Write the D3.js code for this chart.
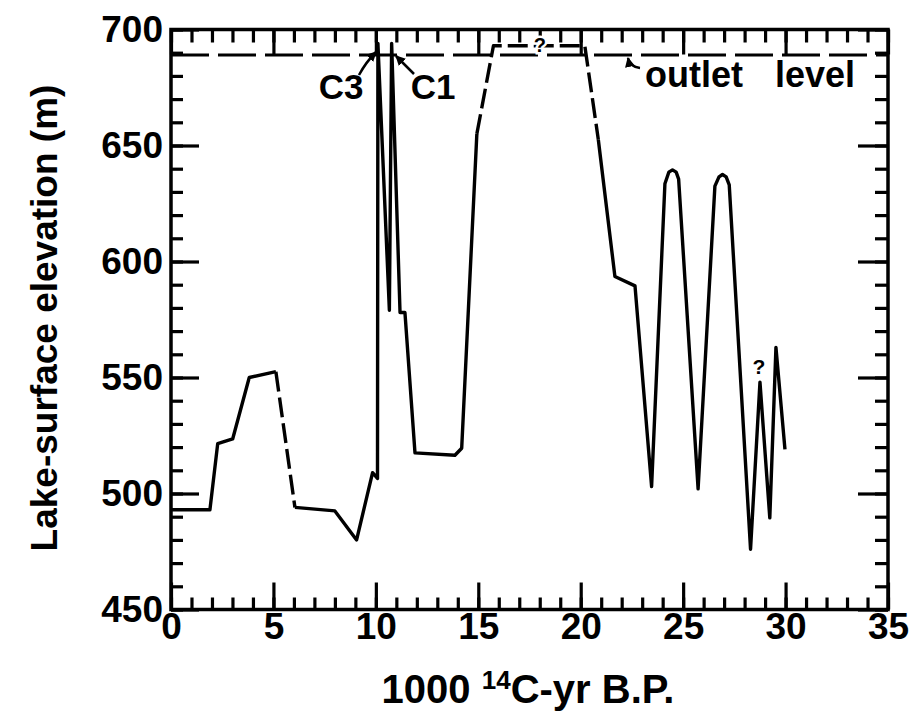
<!DOCTYPE html>
<html><head><meta charset="utf-8">
<script src="https://cdn.jsdelivr.net/npm/d3@7"></script>
<style>body{margin:0;background:#fff}</style></head>
<body><svg id="c" width="921" height="720"></svg>
<script>
// ---- data ----
const ageKyr    = [0, 1.9, 2.28, 3.01, 3.82, 5.12, 6.05, 8.0, 9.06, 9.84, 10.08, 10.1, 10.66, 10.77, 11.18, 11.42, 11.91, 13.86, 14.19, 14.93, 15.74, 20.2, 20.86, 21.67, 22.65, 23.46, 24.11, 24.3, 24.48, 24.66, 24.78, 25.73, 26.55, 26.75, 26.92, 27.1, 27.25, 28.29, 28.75, 29.23, 29.53, 29.97];
const elevation = [493, 493, 521.5, 523.5, 550, 552.5, 494, 492.5, 480, 509, 506.5, 694, 579, 694, 578, 578, 517.5, 516.5, 519.5, 655, 693, 693, 652.5, 593.5, 589.5, 503, 633.5, 638.5, 639.5, 638.5, 635.5, 502, 632.5, 636.5, 637.5, 636.5, 633, 476, 548, 489.5, 563, 519];
// style of the segment from point i to point i+1: s = solid, d = dashed
const segStyle  = ["s","s","s","s","s","d",
                   "s","s","s","s","s","s","s","s","s","s","s","s","s",
                   "d","d","d",
                   "s","s","s","s","s","s","s","s","s","s","s","s","s","s","s","s","s","s","s"];
const xMajor = [0, 5, 10, 15, 20, 25, 30, 35];
const yMajor = [450, 500, 550, 600, 650, 700];
const outletLevel = 689;
const xTitle = ["1000 ", "14", "C-yr B.P."];
const yTitle = "Lake-surface elevation (m)";

// ---- layout ----
const svg = d3.select("#c");
const font = "'Liberation Sans', Arial, Helvetica, sans-serif";
const L = 171, R = 888, T = 29.5, B = 609.5;
const x = d3.scaleLinear().domain([0, 35]).range([L, R]);
const y = d3.scaleLinear().domain([450, 700]).range([B, T]);
const xMinor = d3.range(0, 36, 1);
const yMinor = d3.range(450, 701, 10);

function styleAxis(g) {
  g.select(".domain").remove();
  g.selectAll(".tick line").attr("stroke", "#000").attr("stroke-width", 3.2);
  g.selectAll("text").attr("font-family", font).attr("font-weight", "bold")
    .attr("font-size", 37).attr("fill", "#000");
}
// bottom
svg.append("g").attr("transform", `translate(0,${B})`)
  .call(d3.axisBottom(x).tickValues(xMinor).tickSize(-12).tickFormat("")).call(styleAxis);
svg.append("g").attr("transform", `translate(0,${B})`)
  .call(d3.axisBottom(x).tickValues(xMajor).tickSize(-27).tickPadding(3).tickFormat(d3.format("d"))).call(styleAxis);
// top
svg.append("g").attr("transform", `translate(0,${T})`)
  .call(d3.axisTop(x).tickValues(xMinor).tickSize(-13).tickFormat("")).call(styleAxis);
svg.append("g").attr("transform", `translate(0,${T})`)
  .call(d3.axisTop(x).tickValues(xMajor).tickSize(-25).tickFormat("")).call(styleAxis);
// left
svg.append("g").attr("transform", `translate(${L},0)`)
  .call(d3.axisLeft(y).tickValues(yMinor).tickSize(-12).tickFormat("")).call(styleAxis);
svg.append("g").attr("transform", `translate(${L},0)`)
  .call(d3.axisLeft(y).tickValues(yMajor).tickSize(-28).tickPadding(8).tickFormat(d3.format("d"))).call(styleAxis);
// right
svg.append("g").attr("transform", `translate(${R},0)`)
  .call(d3.axisRight(y).tickValues(yMinor).tickSize(-13).tickFormat("")).call(styleAxis);
svg.append("g").attr("transform", `translate(${R},0)`)
  .call(d3.axisRight(y).tickValues(yMajor).tickSize(-30).tickFormat("")).call(styleAxis);

// frame
svg.append("rect").attr("x", L).attr("y", T).attr("width", R - L).attr("height", B - T)
  .attr("fill", "none").attr("stroke", "#000").attr("stroke-width", 3.5);

// outlet level
svg.append("line").attr("x1", L).attr("x2", R).attr("y1", y(outletLevel)).attr("y2", y(outletLevel))
  .attr("stroke", "#000").attr("stroke-width", 3).attr("stroke-dasharray", "38 9");

// data: group consecutive segments of same style
const pts = ageKyr.map((a, i) => [a, elevation[i]]);
const runs = [];
segStyle.forEach((s, i) => {
  const last = runs[runs.length - 1];
  if (last && last.style === s) last.pts.push(pts[i + 1]);
  else runs.push({ style: s, pts: [pts[i], pts[i + 1]] });
});
const line = d3.line().x(d => x(d[0])).y(d => y(d[1]));
svg.append("g").selectAll("path").data(runs).join("path")
  .attr("d", d => line(d.pts))
  .attr("fill", "none").attr("stroke", "#000").attr("stroke-width", 3.4)
  .attr("stroke-linejoin", "round").attr("stroke-linecap", "butt")
  .attr("stroke-dasharray", d => d.style === "d" ? "20 6" : null);

// annotations
const ann = svg.append("g").attr("font-family", font).attr("font-weight", "bold").attr("fill", "#000");
ann.append("text").attr("x", 341).attr("y", 99).attr("text-anchor", "middle").attr("font-size", 35).text("C3");
ann.append("text").attr("x", 433).attr("y", 99).attr("text-anchor", "middle").attr("font-size", 35).text("C1");
const ol = ann.append("text").attr("y", 87).attr("font-size", 36);
ol.append("tspan").attr("x", 645).text("outlet");
ol.append("tspan").attr("x", 775).text("level");
ann.append("text").attr("x", x(18)).attr("y", 52).attr("text-anchor", "middle").attr("font-size", 20)
  .attr("stroke", "#fff").attr("stroke-width", 5).attr("paint-order", "stroke").text("?");
ann.append("text").attr("x", x(28.7)).attr("y", 374).attr("text-anchor", "middle").attr("font-size", 21).text("?");

// arrows
const defs = svg.append("defs");
defs.append("marker").attr("id", "ah").attr("viewBox", "0 0 10 10").attr("refX", 9).attr("refY", 5)
  .attr("markerWidth", 4).attr("markerHeight", 4).attr("orient", "auto")
  .append("path").attr("d", "M0,0 L10,5 L0,10 z").attr("fill", "#000");
const arr = svg.append("g").attr("fill", "none").attr("stroke", "#000").attr("stroke-width", 2.5);
arr.append("path").attr("d", "M359,75 Q366,62 376,52").attr("marker-end", "url(#ah)");
arr.append("path").attr("d", "M414,74 Q404,64 396,56").attr("marker-end", "url(#ah)");
arr.append("path").attr("d", "M640,68 Q630,67 628,58").attr("marker-end", "url(#ah)");

// axis titles
const xt = svg.append("text").attr("x", 528).attr("y", 703).attr("text-anchor", "middle")
  .attr("font-family", font).attr("font-weight", "bold").attr("font-size", 40).attr("fill", "#000");
xt.append("tspan").text(xTitle[0]);
xt.append("tspan").attr("font-size", 26).attr("dy", -14).text(xTitle[1]);
xt.append("tspan").attr("dy", 14).text(xTitle[2]);
svg.append("text").attr("transform", "translate(57,318) rotate(-90)").attr("text-anchor", "middle")
  .attr("font-family", font).attr("font-weight", "bold").attr("font-size", 37).attr("fill", "#000").text(yTitle);
</script></body></html>
